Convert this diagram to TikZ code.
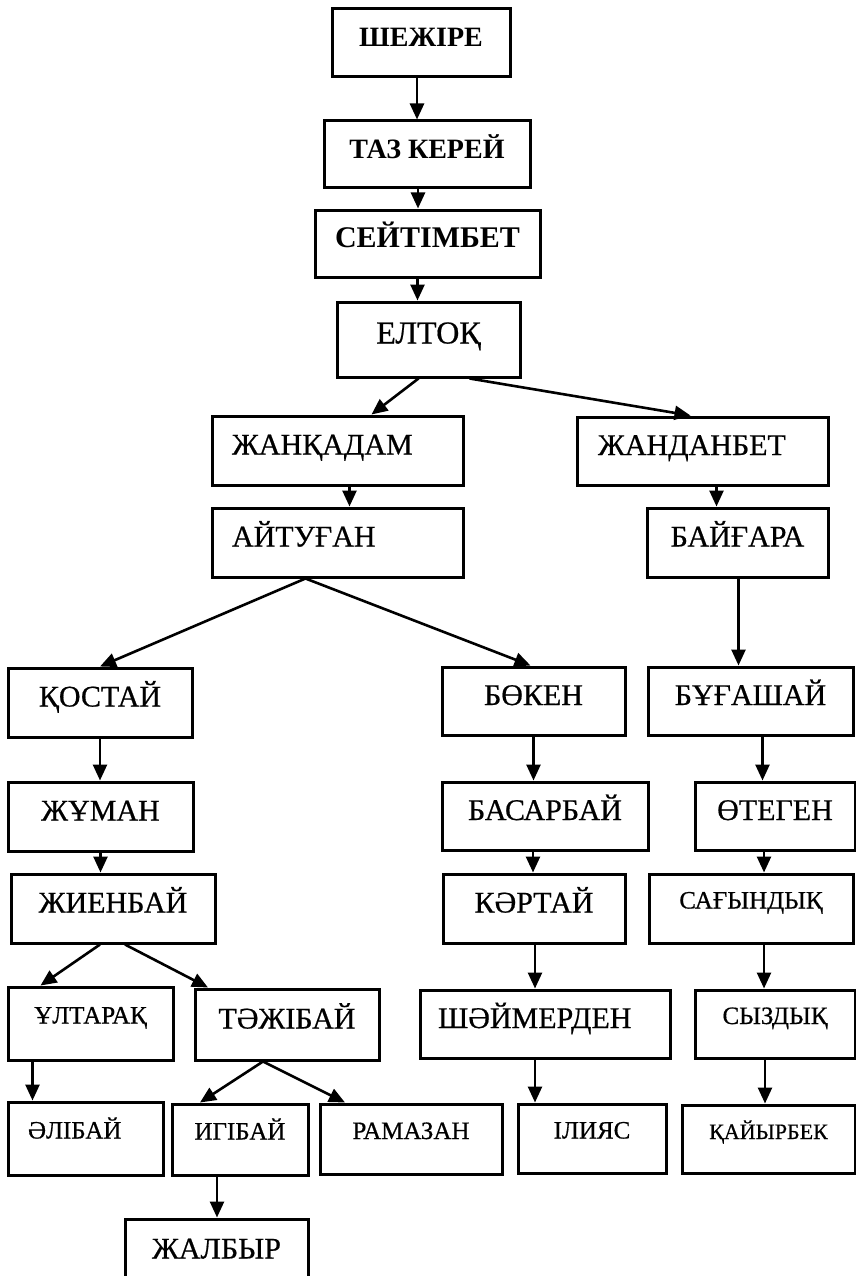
\documentclass[tikz,border=0pt]{standalone}
\usepackage{fontspec}
\setmainfont{Liberation Serif}[UprightFeatures={FakeBold=0.6}]
\usetikzlibrary{arrows.meta}
\begin{document}
\begin{tikzpicture}[x=1pt, y=-1pt,
    box/.style = {draw = black, line width = 3pt, inner sep = 0pt,
                  text height = 22pt, text depth = 14pt,
                  font = \fontsize{30}{36}\selectfont},
    sz/.style 2 args = {minimum width = #1, minimum height = #2},
    bf/.style = {font = \fontsize{#1}{34}\selectfont\bfseries},
    sm/.style = {text height = 17pt, text depth = 17pt,
                 font = \fontsize{25}{30}\selectfont},
    lft/.style 2 args = {align = left, inner xsep = #1, text width = #2},
    arr/.style = {line width = 2.6pt, -{Triangle[length = 16pt, width = 14pt]}}]
    \useasboundingbox (0,0) rectangle (855,1276);
    % trunk
    \node [box, bf=28, sz={178}{68}] (shezhire) at (421,43) {ШЕЖІРЕ};
    \node [box, bf=28, sz={206}{67}] (taz) at (427,154.5) {ТАЗ КЕРЕЙ};
    \node [box, bf=30, sz={225}{67}] (seitimbet) at (427.5,243.5) {СЕЙТІМБЕТ};
    \node [box, font=\fontsize{32}{38}\selectfont, sz={183}{75}] (eltoq) at (428.5,339.5) {ЕЛТОҚ};
    % left branch
    \node [box, sz={251}{69}, lft={20}{211}] (zhanqadam) at (337.5,450.5) {ЖАНҚАДАМ};
    \node [box, sz={251}{69}, lft={20}{211}] (aitugan) at (337.5,542.5) {АЙТУҒАН};
    \node [box, sz={184}{69}] (qostai) at (100,702.5) {ҚОСТАЙ};
    \node [box, sz={185}{69}] (zhuman) at (100.5,816.5) {ЖҰМАН};
    \node [box, sz={204}{69}] (zhienbai) at (113,908.5) {ЖИЕНБАЙ};
    \node [box, sm, sz={165}{73}] (ultaraq) at (90.5,1023.5) {ҰЛТАРАҚ};
    \node [box, sz={184}{71}] (tazhibai) at (287,1024.5) {ТӘЖІБАЙ};
    \node [box, sm, sz={155}{73}, lft={20}{115}] (alibai) at (85.5,1138.5) {ӘЛІБАЙ};
    \node [box, sm, sz={136}{71}] (igibai) at (240,1139.5) {ИГІБАЙ};
    \node [box, sm, sz={182}{70}] (ramazan) at (411,1139) {РАМАЗАН};
    \node [box, sz={183}{71}] (zhalbyr) at (216.5,1254.5) {ЖАЛБЫР};
    % middle branch
    \node [box, sz={183}{68}] (boken) at (533.5,701) {БӨКЕН};
    \node [box, sz={206}{68}] (basarbai) at (545,816) {БАСАРБАЙ};
    \node [box, sz={182}{69}] (kartai) at (534,908.5) {КӘРТАЙ};
    \node [box, sz={250}{68}, lft={18}{214}] (shaimerden) at (545,1024) {ШӘЙМЕРДЕН};
    \node [box, sm, sz={148}{69}] (iliyas) at (592,1138.5) {ІЛИЯС};
    % right branch
    \node [box, sz={251}{68}, lft={21}{209}] (zhandanbet) at (702.5,451) {ЖАНДАНБЕТ};
    \node [box, sz={181}{69}] (baigara) at (737.5,542.5) {БАЙҒАРА};
    \node [box, sz={205}{68}] (bugashai) at (750.5,701) {БҰҒАШАЙ};
    \node [box, sz={160}{68}] (otegen) at (775,816) {ӨТЕГЕН};
    \node [box, sm, sz={204}{69}] (sagyndyq) at (751,908.5) {САҒЫНДЫҚ};
    \node [box, sm, sz={160}{68}] (syzdyq) at (775,1024) {СЫЗДЫҚ};
    \node [box, sm, font=\fontsize{22}{27}\selectfont, sz={173}{68}] (qaiyrbek) at (768.5,1139) {ҚАЙЫРБЕК};
    % straight arrows
    \foreach \a/\b/\dx in {shezhire/taz/-4, taz/seitimbet/-9, seitimbet/eltoq/-10,
        zhanqadam/aitugan/12, zhandanbet/baigara/14, baigara/bugashai/1,
        bugashai/otegen/12, otegen/sagyndyq/-11, sagyndyq/syzdyq/13,
        syzdyq/qaiyrbek/-10, boken/basarbai/0, basarbai/kartai/-12,
        kartai/shaimerden/1, shaimerden/iliyas/-10, qostai/zhuman/0,
        zhuman/zhienbai/0, ultaraq/alibai/-58, igibai/zhalbyr/-23}
    {
        \coordinate (s) at ([xshift=\dx]\a.south);
        \draw [arr] (s) -- (s |- \b.north);
    }
    % slanted arrows
    \foreach \a/\b/\ds/\dt in {eltoq/zhanqadam/-10/34, eltoq/zhandanbet/41/-12,
        aitugan/qostai/-32/0, aitugan/boken/-32/-3,
        zhienbai/ultaraq/-13/-50, zhienbai/tazhibai/12/-79,
        tazhibai/igibai/-24/-40, tazhibai/ramazan/-24/-66}
        \draw [arr] ([xshift=\ds]\a.south) -- ([xshift=\dt]\b.north);
\end{tikzpicture}
\end{document}
